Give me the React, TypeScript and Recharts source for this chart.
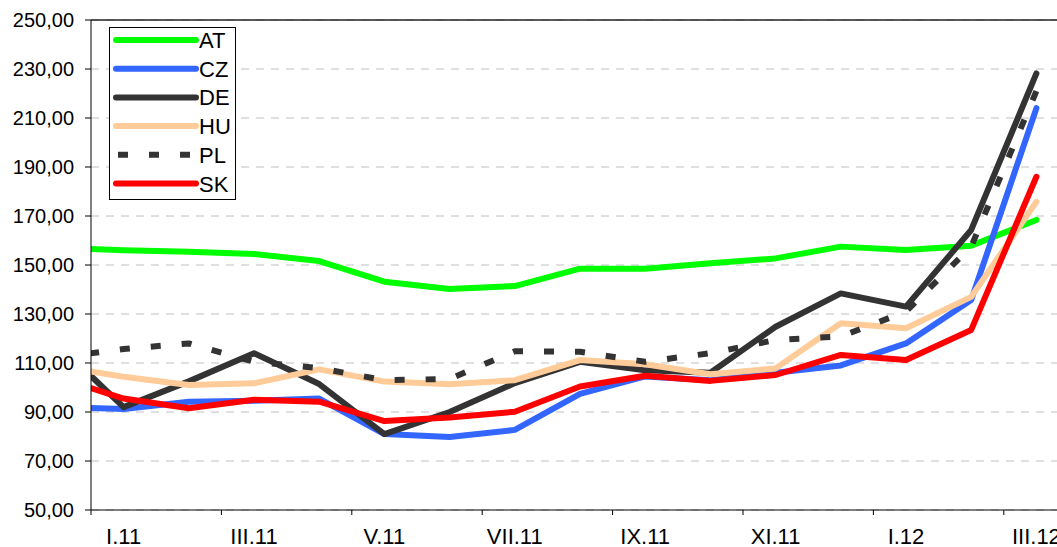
import { CartesianGrid, Line, LineChart, ReferenceLine, XAxis, YAxis } from "recharts";

// month index 0 = XII.10 (cut off by the axis), 15 = III.12
const months = [
  "XII.10", "I.11", "II.11", "III.11", "IV.11", "V.11", "VI.11", "VII.11",
  "VIII.11", "IX.11", "X.11", "XI.11", "XII.11", "I.12", "II.12", "III.12",
];

const at = [157, 156, 155.4, 154.5, 151.6, 143.2, 140.2, 141.4, 148.5, 148.5, 150.7, 152.7, 157.5, 156.1, 157.9, 168.4];
const cz = [92, 91.2, 94.2, 94.6, 95.5, 81, 79.8, 82.7, 97.4, 104.5, 103, 106, 109, 118, 135.7, 214];
const de = [117.4, 92, 102.5, 114, 101.4, 81, 90, 101.8, 110.5, 107, 106, 124.8, 138.4, 133, 164.3, 228.2];
const hu = [108.7, 104.4, 101, 101.7, 107.4, 102.4, 101.3, 103, 111.2, 109.5, 105.4, 107.8, 126.2, 124.2, 137, 175.8];
const pl = [112.2, 115.7, 118, 110.5, 107.9, 103, 103.5, 114.8, 114.6, 110.5, 114, 119.4, 120.8, 131, 157.5, 221];
const sk = [104, 95.5, 91.5, 95, 94.2, 86.3, 87.8, 90.1, 100.4, 104.8, 102.7, 105.1, 113.3, 111.2, 123.5, 186];

const yTicks = [50, 70, 90, 110, 130, 150, 170, 190, 210, 230, 250];

const series = [
  { key: "AT", values: at, color: "#00ff00", dash: undefined },
  { key: "CZ", values: cz, color: "#3366ff", dash: undefined },
  { key: "DE", values: de, color: "#333333", dash: undefined },
  { key: "HU", values: hu, color: "#ffcc99", dash: undefined },
  { key: "PL", values: pl, color: "#333333", dash: "10 21" },
  { key: "SK", values: sk, color: "#ff0000", dash: undefined },
];

const data = months.map((m, i) => {
  const row: Record<string, number | string> = { idx: i, month: m };
  series.forEach((s) => (row[s.key] = s.values[i]));
  return row;
});

// labels on every second month, tick marks on the boundary before it
const labelTicks = months.map((_, i) => i).filter((i) => i % 2 === 1);
const xTicks = labelTicks.flatMap((i) => [i - 0.5, i]);

const FONT = "'Liberation Sans', Arial, sans-serif";

function MonthTick(props: any) {
  const { x, y, payload } = props;
  const v = payload.value as number;
  if (!Number.isInteger(v)) {
    return <line x1={x} x2={x} y1={y} y2={y + 5} stroke="#000" strokeWidth={1} />;
  }
  return (
    <text x={x} y={y + 34} textAnchor="middle" fill="#000" fontSize={22} fontFamily={FONT}>
      {months[v]}
    </text>
  );
}

function ChartLegend() {
  return (
    <div
      style={{
        position: "absolute",
        left: 109,
        top: 27,
        width: 125,
        height: 171,
        border: "1px solid #000",
        background: "#fff",
      }}
    >
      <svg width={125} height={171}>
        {series.map((s, i) => {
          const cy = 12 + i * 28.7;
          return (
            <g key={s.key}>
              <line
                x1={s.dash ? 8 : 6}
                x2={s.dash ? 88 : 86}
                y1={cy}
                y2={cy}
                stroke={s.color}
                strokeWidth={6}
                strokeLinecap={s.dash ? "butt" : "round"}
                strokeDasharray={s.dash}
              />
              <text x={89} y={cy + 8} fontSize={22} fontFamily={FONT} fill="#000">
                {s.key}
              </text>
            </g>
          );
        })}
      </svg>
    </div>
  );
}

export default function App() {
  return (
    <div
      style={{
        position: "fixed",
        left: 0,
        top: 0,
        width: 1057,
        height: 547,
        overflow: "hidden",
        background: "#fff",
        fontFamily: FONT,
      }}
    >
      <LineChart width={1080} height={547} data={data} margin={{ top: 20, right: 11, bottom: 0, left: 0 }}>
        <CartesianGrid vertical={false} stroke="#c0c0c0" strokeDasharray="8 7" />
        <XAxis
          dataKey="idx"
          type="number"
          domain={[0.5, 15.5]}
          allowDataOverflow
          ticks={xTicks}
          interval={0}
          tick={<MonthTick />}
          tickLine={false}
          tickSize={0}
          tickMargin={0}
          height={37}
          axisLine={{ stroke: "#000" }}
        />
        <YAxis
          domain={[50, 250]}
          ticks={yTicks}
          interval={0}
          width={91}
          tickSize={6}
          tickMargin={11}
          tickLine={{ stroke: "#000" }}
          axisLine={{ stroke: "#000" }}
          tick={{ fill: "#000", fontSize: 20, fontFamily: FONT }}
          tickFormatter={(v: number) => v.toFixed(2).replace(".", ",")}
        />
        <ReferenceLine y={250} stroke="#222" strokeWidth={1.5} />
        {series.map((s) => (
          <Line
            key={s.key}
            dataKey={s.key}
            type="linear"
            stroke={s.color}
            strokeWidth={6}
            strokeDasharray={s.dash}
            strokeLinecap={s.dash ? "butt" : "round"}
            strokeLinejoin="round"
            dot={false}
            activeDot={false}
            isAnimationActive={false}
          />
        ))}
      </LineChart>
      <ChartLegend />
    </div>
  );
}
